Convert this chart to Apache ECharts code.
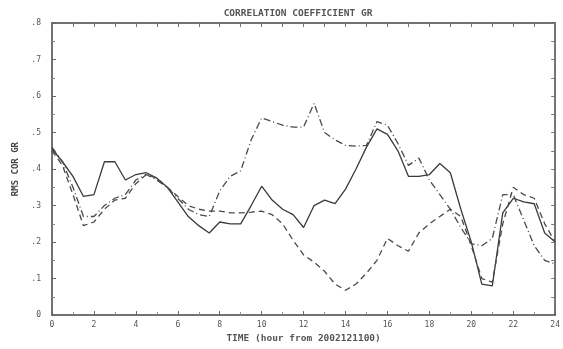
<!DOCTYPE html>
<html>
<head>
<meta charset="utf-8">
<script src="https://cdn.jsdelivr.net/npm/echarts@6/dist/echarts.min.js"></script>
<style>html,body{margin:0;padding:0;background:#fff}#c{width:563px;height:349px}</style>
</head>
<body>
<div id="c"></div>
<script>
const hours = [0,0.5,1,1.5,2,2.5,3,3.5,4,4.5,5,5.5,6,6.5,7,7.5,8,8.5,9,9.5,10,10.5,11,11.5,12,12.5,13,13.5,14,14.5,15,15.5,16,16.5,17,17.5,18,18.5,19,19.5,20,20.5,21,21.5,22,22.5,23,23.5,24];
const solid = [0.455,0.42,0.38,0.325,0.33,0.42,0.42,0.37,0.385,0.39,0.375,0.35,0.31,0.27,0.245,0.225,0.255,0.25,0.25,0.30,0.353,0.315,0.29,0.275,0.24,0.30,0.315,0.305,0.345,0.40,0.46,0.51,0.495,0.45,0.38,0.38,0.385,0.415,0.39,0.29,0.20,0.085,0.08,0.28,0.32,0.31,0.305,0.225,0.20];
const dashed = [0.45,0.41,0.33,0.245,0.255,0.29,0.315,0.32,0.36,0.385,0.375,0.35,0.325,0.30,0.29,0.285,0.285,0.28,0.28,0.282,0.285,0.275,0.25,0.205,0.165,0.145,0.12,0.085,0.068,0.085,0.115,0.15,0.21,0.19,0.175,0.225,0.25,0.27,0.29,0.27,0.19,0.10,0.09,0.25,0.35,0.33,0.32,0.25,0.20];
const dashDot = [0.46,0.42,0.35,0.27,0.27,0.30,0.32,0.33,0.37,0.385,0.37,0.35,0.32,0.29,0.275,0.27,0.34,0.38,0.395,0.48,0.54,0.53,0.52,0.515,0.515,0.58,0.50,0.48,0.465,0.463,0.465,0.53,0.52,0.47,0.41,0.43,0.37,0.33,0.29,0.24,0.195,0.19,0.21,0.33,0.33,0.26,0.19,0.15,0.14];
const xTicks = ['0','2','4','6','8','10','12','14','16','18','20','22','24'];
const yTicks = ['0','.1','.2','.3','.4','.5','.6','.7','.8'];

const pair = arr => hours.map((h,i)=>[h,arr[i]]);
const font = 'DejaVu Sans Mono';
const lc = '#555';
const chart = echarts.init(document.getElementById('c'));
const axLine = {show:true, onZero:false, lineStyle:{color:'#444', width:1.5}};
chart.setOption({
  animation:false,
  title:{text:'CORRELATION COEFFICIENT GR', left:293, top:4, textAlign:'center',
    textStyle:{fontFamily:font, fontSize:9.5, fontWeight:'bold', color:lc}},
  grid:{left:52, right:5, top:23, bottom:32},
  xAxis:[
    {type:'value', min:0, max:24, interval:2, position:'bottom',
     name:'TIME (hour from 2002121100)', nameLocation:'middle', nameGap:16,
     nameTextStyle:{fontFamily:font, fontSize:9.5, fontWeight:'bold', color:lc},
     axisLine:axLine, axisTick:{inside:true, length:4, lineStyle:{color:'#666'}},
     minorTick:{show:true, splitNumber:2, length:3, lineStyle:{color:'#888'}},
     splitLine:{show:false},
     axisLabel:{fontFamily:font, fontSize:8, color:lc, margin:6,
       formatter:v=>xTicks[Math.round(v/2)]}},
    {type:'value', min:0, max:24, interval:1, position:'top',
     axisLine:axLine, axisTick:{inside:true, length:4, lineStyle:{color:'#777'}},
     axisLabel:{show:false}, splitLine:{show:false}}
  ],
  yAxis:[
    {type:'value', min:0, max:0.8, interval:0.1, position:'left',
     name:'RMS COR GR', nameLocation:'middle', nameGap:30, nameRotate:90,
     nameTextStyle:{fontFamily:font, fontSize:9, fontWeight:'bold', color:'#444'},
     axisLine:axLine, axisTick:{inside:true, length:4, lineStyle:{color:'#666'}},
     minorTick:{show:true, splitNumber:2, length:3, lineStyle:{color:'#888'}},
     splitLine:{show:false},
     axisLabel:{fontFamily:font, fontSize:8, color:lc, margin:11,
       formatter:v=>yTicks[Math.round(v*10)]}},
    {type:'value', min:0, max:0.8, interval:0.05, position:'right',
     axisLine:axLine, axisTick:{inside:true, length:4, lineStyle:{color:'#777'}},
     axisLabel:{show:false}, splitLine:{show:false}}
  ],
  series:[
    {type:'line', data:pair(solid), showSymbol:false, lineStyle:{color:'#3a3a3a', width:1.3, type:'solid'}},
    {type:'line', data:pair(dashed), showSymbol:false, lineStyle:{color:'#4a4a4a', width:1.3, type:[6,4]}},
    {type:'line', data:pair(dashDot), showSymbol:false, lineStyle:{color:'#4a4a4a', width:1.3, type:[7,3,1,3]}}
  ]
});
</script>
</body>
</html>
